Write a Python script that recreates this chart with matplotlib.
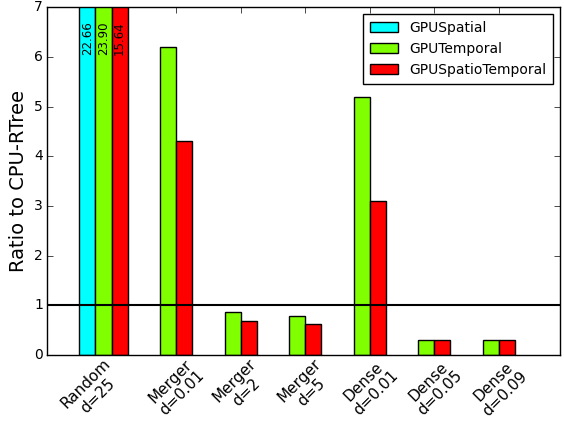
import numpy as np
import matplotlib
matplotlib.use("Agg")
import matplotlib.pyplot as plt

plt.style.use('classic')

groups = ["Random\nd=25", "Merger\nd=0.01", "Merger\nd=2", "Merger\nd=5",
          "Dense\nd=0.01", "Dense\nd=0.05", "Dense\nd=0.09"]
nan = np.nan
gpu_spatial = [22.66, nan, nan, nan, nan, nan, nan]
gpu_temporal = [23.90, 6.2, 0.87, 0.78, 5.2, 0.30, 0.30]
gpu_spatiotemporal = [15.64, 4.3, 0.69, 0.62, 3.1, 0.30, 0.30]
labels = ["GPUSpatial", "GPUTemporal", "GPUSpatioTemporal"]

ind = np.arange(len(groups))
w = 0.25

fig = plt.figure(figsize=(5.64, 4.23), dpi=100, facecolor='white')
ax = fig.add_axes([0.0833, 0.161, 0.910, 0.822])

b1 = ax.bar(ind, gpu_spatial, w, align='edge', color='#00ffff', edgecolor='black', label=labels[0])
b2 = ax.bar(ind + w, gpu_temporal, w, align='edge', color='#7fff00', edgecolor='black', label=labels[1])
b3 = ax.bar(ind + 2*w, gpu_spatiotemporal, w, align='edge', color='#ff0000', edgecolor='black', label=labels[2])

# values that go off the top of the chart
for bars, vals in ((b1, gpu_spatial), (b2, gpu_temporal), (b3, gpu_spatiotemporal)):
   for r, v in zip(bars, vals):
      if v > 7:
         ax.text(r.get_x() + r.get_width()/2, 6.72, "%.2f" % v, rotation=90,
                 ha='center', va='top', fontsize=8.5)

ax.axhline(1, color='black', lw=1.5)

ax.set_ylim(0, 7)
ax.set_xlim(-0.5, 7.45)
ax.set_ylabel("Ratio to CPU-RTree", fontsize=14)
ax.yaxis.set_label_coords(-0.037, 0.5)

# the first label sits a bit left in the original, its tick mark is hidden by the bars
ticks = ind + 2*w
ticks[0] = 0.19
ax.set_xticks(ticks)
ax.set_xticklabels(groups, rotation=45, ha='center', fontsize=11, linespacing=1.15)
ax.tick_params(axis='y', labelsize=10, pad=3)
ax.tick_params(axis='x', pad=1)
t0 = ax.xaxis.get_major_ticks()[0]
t0.tick1line.set_visible(False)
t0.tick2line.set_visible(False)

ax.legend(loc='upper right', fontsize=10, borderpad=0.5)

fig.savefig("out.png", dpi=100, facecolor='white')
